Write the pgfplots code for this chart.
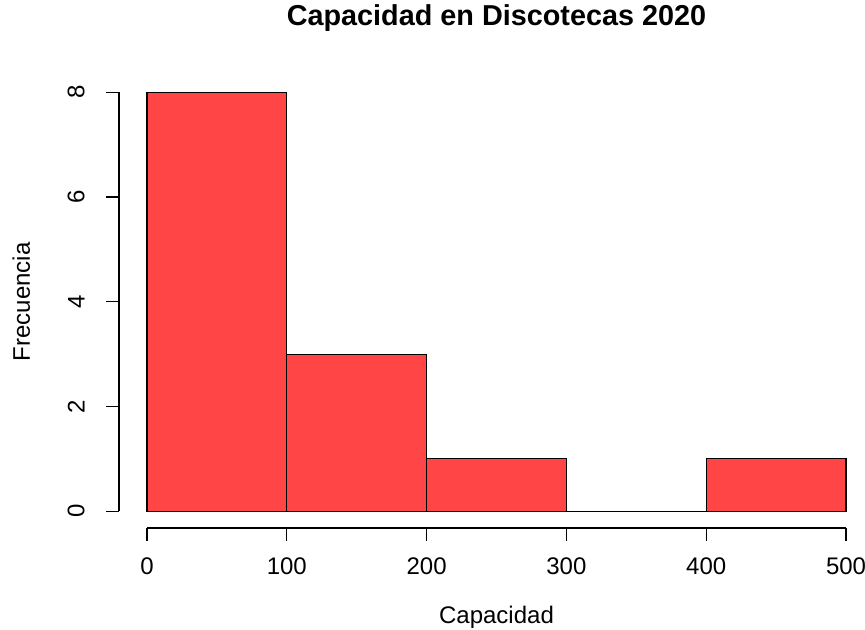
\documentclass[border=0pt]{standalone}
\usepackage{pgfplots}
\pgfplotsset{compat=1.18}
\usepackage{fontspec}
\setmainfont{Liberation Sans}
\definecolor{barred}{HTML}{FF4545}
\begin{document}
\begin{tikzpicture}[font=\fontsize{12}{14}\selectfont]
\path[use as bounding box] (0,0) rectangle (432.5pt,314.5pt);
\begin{axis}[
  at={(59.5pt,50.5pt)}, anchor=south west,
  scale only axis, width=377.5pt, height=226.25pt,
  xmin=-20, xmax=520, ymin=-0.32, ymax=8.32,
  enlargelimits=false, clip=false,
  axis line style={draw=none},
  xtick={0,100,200,300,400,500},
  ytick={0,2,4,6,8},
  xtick pos=left, ytick pos=left,
  tick align=outside,
  major tick length=6.5pt,
  tick style={black, line width=0.6pt},
  /pgf/number format/assume math mode=true,
  tick label style={font=\fontsize{12}{14}\selectfont},
  xticklabel style={inner sep=0pt, anchor=north, yshift=-8pt},
  yticklabel style={rotate=90, inner sep=0pt, anchor=south},
  yticklabel shift=10.5pt,
  xlabel={Capacidad},
  xlabel style={at={(axis description cs:0.5,-0.21)}, anchor=base},
  ylabel={Frecuencia},
  ylabel style={at={(axis description cs:-0.118,0.5)}, anchor=base},
  title={Capacidad en Discotecas 2020},
  title style={at={(axis description cs:0.5,1.083)}, anchor=base, font=\bfseries\fontsize{14.4}{17}\selectfont},
]
\addplot[ybar interval, fill=barred, draw=black, line width=0.6pt]
  coordinates {(0,8) (100,3) (200,1) (300,0) (400,1) (500,1)};
\draw[black, line width=0.6pt] (axis cs:0,-0.32) -- (axis cs:500,-0.32);
\draw[black, line width=0.6pt] (axis cs:-20,0) -- (axis cs:-20,8);
\end{axis}
\end{tikzpicture}
\end{document}
